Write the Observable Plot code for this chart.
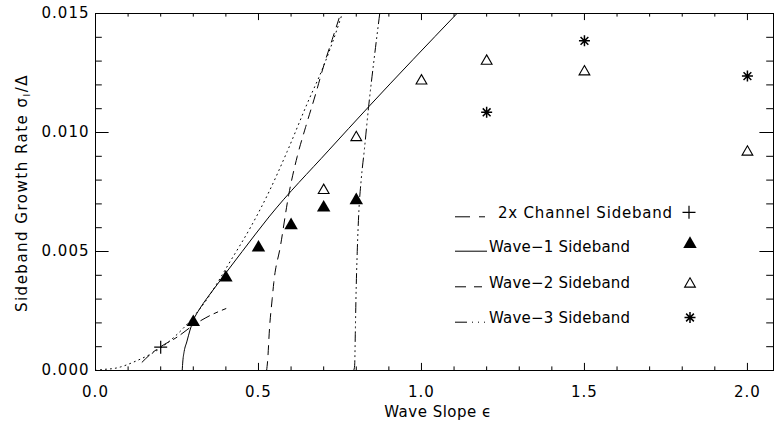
<!DOCTYPE html>
<html><head><meta charset="utf-8">
<script src="https://cdn.jsdelivr.net/npm/d3@7"></script>
<script src="https://cdn.jsdelivr.net/npm/@observablehq/plot@0.6"></script>
<style>
html,body{margin:0;padding:0;background:#fff;}
#chart{width:774px;height:424px;}
#chart svg text{font-family:"DejaVu Sans",sans-serif;}
</style></head><body><div id="chart"></div>
<script>
// ---- data ----
const chanPtX = [0.2];
const chanPtY = [0.00098];
const wave1PtX = [0.3, 0.4, 0.5, 0.6, 0.7, 0.8];
const wave1PtY = [0.00203, 0.0039, 0.00516, 0.0061, 0.00684, 0.00715];
const wave2PtX = [0.7, 0.8, 1.0, 1.2, 1.5, 2.0];
const wave2PtY = [0.00757, 0.00979, 0.01217, 0.01300, 0.01255, 0.00918];
const wave3PtX = [1.2, 1.5, 2.0];
const wave3PtY = [0.01085, 0.01385, 0.01237];

const chanCurveX = [0.143, 0.17, 0.2, 0.25, 0.3, 0.35, 0.4];
const chanCurveY = [0.00035, 0.0007, 0.001, 0.0014, 0.0019, 0.0023, 0.0026];
const wave1CurveX = [0.266, 0.268, 0.272, 0.28, 0.29, 0.30, 0.32, 0.34, 0.37, 0.40, 0.45, 0.532, 0.716, 0.838, 1.109];
const wave1CurveY = [0, 0.0004, 0.0008, 0.0012, 0.0017, 0.0021, 0.0026, 0.003, 0.00355, 0.0041, 0.005, 0.00645, 0.00926, 0.01108, 0.015];
const wave2CurveX = [0.525, 0.528, 0.534, 0.542, 0.547, 0.567, 0.593, 0.619, 0.644, 0.675, 0.70, 0.726, 0.752];
const wave2CurveY = [0, 0.0004, 0.0018, 0.003, 0.0037, 0.0052, 0.0074, 0.009, 0.0102, 0.0116, 0.0128, 0.0139, 0.015];
const wave3CurveX = [0.792, 0.795, 0.797, 0.799, 0.803, 0.808, 0.815, 0.825, 0.838, 0.854, 0.872];
const wave3CurveY = [0, 0.0002, 0.0015, 0.003, 0.005, 0.0067, 0.008, 0.0093, 0.0111, 0.013, 0.015];
const dotCurveX = [0, 0.015, 0.066, 0.123, 0.2, 0.245, 0.291, 0.337, 0.414, 0.475, 0.532, 0.588, 0.649, 0.70, 0.73, 0.757];
const dotCurveY = [0, 0.00003, 0.00011, 0.00039, 0.00095, 0.00145, 0.0021, 0.0029, 0.0046, 0.006, 0.0075, 0.0092, 0.0112, 0.0128, 0.0139, 0.015];

const xMajorTicks = [0, 0.5, 1.0, 1.5, 2.0];
const xMinorTicks = [0.1,0.2,0.3,0.4,0.6,0.7,0.8,0.9,1.1,1.2,1.3,1.4,1.6,1.7,1.8,1.9];
const yMajorTicks = [0, 0.005, 0.010, 0.015];
const yMinorTicks = [0.001,0.002,0.003,0.004,0.006,0.007,0.008,0.009,0.011,0.012,0.013,0.014];

const legendLabels = ["2x Channel Sideband", "Wave\u22121 Sideband", "Wave\u22122 Sideband", "Wave\u22123 Sideband"];
const xTitle = "Wave Slope \u03F5";
const yTitleMain = "Sideband Growth Rate \u03C3";
const yTitleSub = "I";
const yTitleEnd = "/\u0394";

// ---- layout ----
const W = 774, H = 424, mL = 95, mR = 1, mT = 13, mB = 54;
const innerW = W - mL - mR, innerH = H - mT - mB;
const xMaj = 7.1, xMin = 3.6, yMaj = 13.6, yMin = 6.8;
const FONT = "DejaVu Sans";

const pts = (xs, ys) => xs.map((x, i) => ({x, y: ys[i]}));

const plusSym = {draw(ctx, size) {const r = Math.sqrt(size / Math.PI); ctx.moveTo(-r, 0); ctx.lineTo(r, 0); ctx.moveTo(0, -r); ctx.lineTo(0, r);}};
const starSym = {draw(ctx, size) {const r = Math.sqrt(size / Math.PI); const d = r * Math.SQRT1_2;
  ctx.moveTo(-r, 0); ctx.lineTo(r, 0); ctx.moveTo(0, -r); ctx.lineTo(0, r);
  ctx.moveTo(-d, -d); ctx.lineTo(d, d); ctx.moveTo(-d, d); ctx.lineTo(d, -d);}};

const dashChan = "10,5,4,5";
const dashW2 = "9,7";
const dashW3 = "10,4,1,4,1,4,1,4";
const dashDot = "1,4";

const line = (xs, ys, dash) => Plot.line(pts(xs, ys), {x: "x", y: "y", stroke: "black", strokeWidth: 1, strokeDasharray: dash, curve: "monotone-x", clip: true});

const chart = Plot.plot({
  width: W, height: H, marginLeft: mL, marginRight: mR, marginTop: mT, marginBottom: mB,
  x: {domain: [0, 2.08]},
  y: {domain: [0, 0.015]},
  style: {fontFamily: FONT, fontSize: "15px", color: "black", background: "white"},
  marks: [
    Plot.frame({stroke: "black"}),
    Plot.tickX(xMajorTicks, {x: d => d, insetTop: innerH - xMaj, stroke: "black"}),
    Plot.tickX(xMinorTicks, {x: d => d, insetTop: innerH - xMin, stroke: "black"}),
    Plot.tickX(xMajorTicks, {x: d => d, insetBottom: innerH - xMaj, stroke: "black"}),
    Plot.tickX(xMinorTicks, {x: d => d, insetBottom: innerH - xMin, stroke: "black"}),
    Plot.tickY(yMajorTicks, {y: d => d, insetRight: innerW - yMaj, stroke: "black"}),
    Plot.tickY(yMinorTicks, {y: d => d, insetRight: innerW - yMin, stroke: "black"}),
    Plot.tickY(yMajorTicks, {y: d => d, insetLeft: innerW - yMaj, stroke: "black"}),
    Plot.tickY(yMinorTicks, {y: d => d, insetLeft: innerW - yMin, stroke: "black"}),
    Plot.axisX(xMajorTicks, {tickSize: 0, tickPadding: 16, tickFormat: d3.format(".1f"), label: null, fontSize: 15}),
    Plot.axisY(yMajorTicks, {tickSize: 0, tickPadding: 6, tickFormat: d3.format(".3f"), label: null, fontSize: 15}),
    line(dotCurveX, dotCurveY, dashDot),
    line(chanCurveX, chanCurveY, dashChan),
    line(wave1CurveX, wave1CurveY, null),
    line(wave2CurveX, wave2CurveY, dashW2),
    line(wave3CurveX, wave3CurveY, dashW3),
    Plot.dot(pts(chanPtX, chanPtY), {x: "x", y: "y", symbol: plusSym, r: 6.5, stroke: "black", fill: "none", strokeWidth: 1.2}),
    Plot.dot(pts(wave1PtX, wave1PtY), {x: "x", y: "y", symbol: "triangle", r: 5.0, fill: "black", stroke: "none"}),
    Plot.dot(pts(wave2PtX, wave2PtY), {x: "x", y: "y", symbol: "triangle", r: 4.0, fill: "white", stroke: "black", strokeWidth: 1.1}),
    Plot.dot(pts(wave3PtX, wave3PtY), {x: "x", y: "y", symbol: starSym, r: 5.5, stroke: "black", fill: "none", strokeWidth: 1.5})
  ]
});
document.getElementById("chart").appendChild(chart);

const svg = d3.select(chart);
svg.selectAll('g[aria-label="x-axis tick label"] text, g[aria-label="y-axis tick label"] text')
  .style("letter-spacing", "1px").style("font-size", "15px");

// ---- titles & legend ----
const g = svg.append("g").style("font-family", FONT).style("font-size", "15px").attr("fill", "black");
g.append("text").attr("x", 438).attr("y", 416.5).style("text-anchor", "middle").style("letter-spacing", "0.5px").text(xTitle);
const yt = g.append("text").attr("transform", "translate(26.7,193) rotate(-90)").style("text-anchor", "middle").style("letter-spacing", "1.5px");
yt.append("tspan").text(yTitleMain);
yt.append("tspan").style("font-size", "9px").attr("dy", 3).text(yTitleSub);
yt.append("tspan").attr("dy", -3).text(yTitleEnd);

const lg = g.append("g");
const rowY = [212.3, 246.7, 282.3, 317.7];
const textX = [498, 489, 489, 489];
legendLabels.forEach((t, i) => {
  lg.append("text").attr("x", textX[i]).attr("y", rowY[i] + 5.3).style("text-anchor", "start").style("letter-spacing", i === 0 ? "0.8px" : "0.2px").text(t);
});
const seg = (x1, x2, y) => lg.append("line").attr("x1", x1).attr("x2", x2).attr("y1", y).attr("y2", y).attr("stroke", "black").attr("stroke-width", 1);
seg(455, 470, rowY[0] + 4.5); seg(479, 485, rowY[0] + 4.5);
seg(455, 487, rowY[1] + 4.5);
seg(455, 466, rowY[2] + 4.5); seg(474, 482, rowY[2] + 4.5);
seg(455, 467, rowY[3] + 4.5); seg(472, 473, rowY[3] + 4.5); seg(478, 479, rowY[3] + 4.5); seg(484, 485, rowY[3] + 4.5);
const sym = (s, size) => d3.symbol(s, size)();
lg.append("path").attr("d", sym(plusSym, Math.PI * 6.5 * 6.5)).attr("transform", `translate(689,${rowY[0]})`).attr("stroke", "black").attr("fill", "none").attr("stroke-width", 1.2);
lg.append("path").attr("d", sym(d3.symbolTriangle, Math.PI * 5.0 * 5.0)).attr("transform", `translate(690,244)`).attr("fill", "black");
lg.append("path").attr("d", sym(d3.symbolTriangle, Math.PI * 4.0 * 4.0)).attr("transform", `translate(690,284)`).attr("fill", "white").attr("stroke", "black").attr("stroke-width", 1.1);
lg.append("path").attr("d", sym(starSym, Math.PI * 5.5 * 5.5)).attr("transform", `translate(690,317.5)`).attr("fill", "none").attr("stroke", "black").attr("stroke-width", 1.5);
</script>
</body></html>
